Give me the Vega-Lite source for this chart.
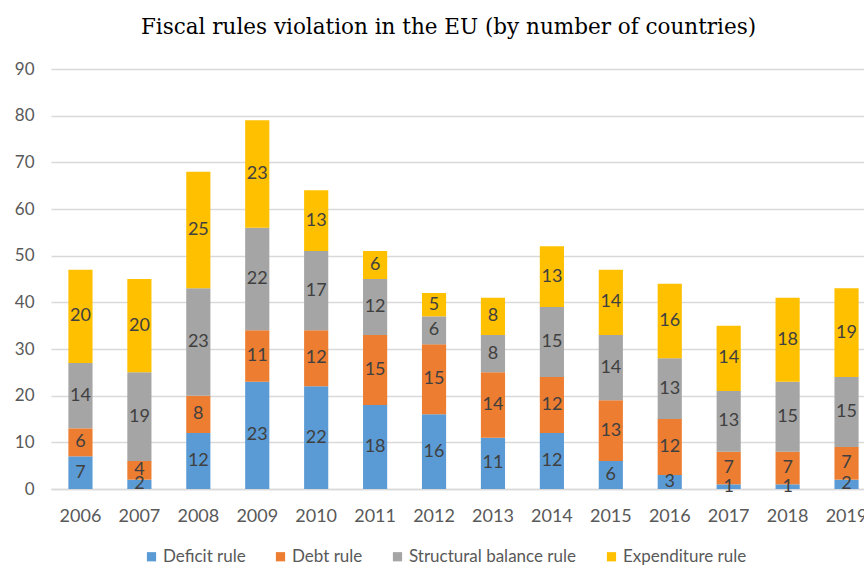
{
  "$schema": "https://vega.github.io/schema/vega-lite/v6.json",
  "width": 813,
  "height": 420,
  "autosize": "none",
  "padding": {"left": 51, "top": 69, "right": 0, "bottom": 79},
  "background": "white",
  "title": {
    "text": "Fiscal rules violation  in the EU (by number  of countries)",
    "font": "DejaVu Serif",
    "fontSize": 21.5,
    "fontWeight": "normal",
    "color": "#000000",
    "anchor": "middle",
    "offset": 22,
    "dx": -9
  },
  "config": {"view": {"stroke": null}},
  "data": {
    "values": [
      {"year": "2006", "rule": "Deficit rule", "count": 7},
      {"year": "2006", "rule": "Debt rule", "count": 6},
      {"year": "2006", "rule": "Structural balance rule", "count": 14},
      {"year": "2006", "rule": "Expenditure rule", "count": 20},
      {"year": "2007", "rule": "Deficit rule", "count": 2},
      {"year": "2007", "rule": "Debt rule", "count": 4},
      {"year": "2007", "rule": "Structural balance rule", "count": 19},
      {"year": "2007", "rule": "Expenditure rule", "count": 20},
      {"year": "2008", "rule": "Deficit rule", "count": 12},
      {"year": "2008", "rule": "Debt rule", "count": 8},
      {"year": "2008", "rule": "Structural balance rule", "count": 23},
      {"year": "2008", "rule": "Expenditure rule", "count": 25},
      {"year": "2009", "rule": "Deficit rule", "count": 23},
      {"year": "2009", "rule": "Debt rule", "count": 11},
      {"year": "2009", "rule": "Structural balance rule", "count": 22},
      {"year": "2009", "rule": "Expenditure rule", "count": 23},
      {"year": "2010", "rule": "Deficit rule", "count": 22},
      {"year": "2010", "rule": "Debt rule", "count": 12},
      {"year": "2010", "rule": "Structural balance rule", "count": 17},
      {"year": "2010", "rule": "Expenditure rule", "count": 13},
      {"year": "2011", "rule": "Deficit rule", "count": 18},
      {"year": "2011", "rule": "Debt rule", "count": 15},
      {"year": "2011", "rule": "Structural balance rule", "count": 12},
      {"year": "2011", "rule": "Expenditure rule", "count": 6},
      {"year": "2012", "rule": "Deficit rule", "count": 16},
      {"year": "2012", "rule": "Debt rule", "count": 15},
      {"year": "2012", "rule": "Structural balance rule", "count": 6},
      {"year": "2012", "rule": "Expenditure rule", "count": 5},
      {"year": "2013", "rule": "Deficit rule", "count": 11},
      {"year": "2013", "rule": "Debt rule", "count": 14},
      {"year": "2013", "rule": "Structural balance rule", "count": 8},
      {"year": "2013", "rule": "Expenditure rule", "count": 8},
      {"year": "2014", "rule": "Deficit rule", "count": 12},
      {"year": "2014", "rule": "Debt rule", "count": 12},
      {"year": "2014", "rule": "Structural balance rule", "count": 15},
      {"year": "2014", "rule": "Expenditure rule", "count": 13},
      {"year": "2015", "rule": "Deficit rule", "count": 6},
      {"year": "2015", "rule": "Debt rule", "count": 13},
      {"year": "2015", "rule": "Structural balance rule", "count": 14},
      {"year": "2015", "rule": "Expenditure rule", "count": 14},
      {"year": "2016", "rule": "Deficit rule", "count": 3},
      {"year": "2016", "rule": "Debt rule", "count": 12},
      {"year": "2016", "rule": "Structural balance rule", "count": 13},
      {"year": "2016", "rule": "Expenditure rule", "count": 16},
      {"year": "2017", "rule": "Deficit rule", "count": 1},
      {"year": "2017", "rule": "Debt rule", "count": 7},
      {"year": "2017", "rule": "Structural balance rule", "count": 13},
      {"year": "2017", "rule": "Expenditure rule", "count": 14},
      {"year": "2018", "rule": "Deficit rule", "count": 1},
      {"year": "2018", "rule": "Debt rule", "count": 7},
      {"year": "2018", "rule": "Structural balance rule", "count": 15},
      {"year": "2018", "rule": "Expenditure rule", "count": 18},
      {"year": "2019", "rule": "Deficit rule", "count": 2},
      {"year": "2019", "rule": "Debt rule", "count": 7},
      {"year": "2019", "rule": "Structural balance rule", "count": 15},
      {"year": "2019", "rule": "Expenditure rule", "count": 19}
    ]
  },
  "transform": [
    {"calculate": "indexof(['Deficit rule','Debt rule','Structural balance rule','Expenditure rule'], datum.rule)", "as": "k"},
    {"stack": "count", "groupby": ["year"], "sort": [{"field": "k", "order": "ascending"}], "as": ["y0", "y1"]},
    {"calculate": "(datum.y0 + datum.y1) / 2", "as": "ym"}
  ],
  "encoding": {
    "x": {
      "field": "year",
      "type": "ordinal",
      "scale": {"range": [0, 825], "paddingInner": 0.59, "paddingOuter": 0.295},
      "axis": {
        "title": null,
        "labelAngle": 0,
        "labelFont": "Lato",
        "labelFontSize": 18,
        "labelColor": "#595959",
        "labelPadding": 18,
        "ticks": false,
        "domainColor": "#D9D9D9",
        "domainWidth": 1.5,
        "grid": false
      }
    }
  },
  "layer": [
    {
      "mark": {"type": "bar"},
      "encoding": {
        "y": {
          "field": "y0",
          "type": "quantitative",
          "scale": {"domain": [0, 90]},
          "axis": {
            "title": null,
            "values": [0, 10, 20, 30, 40, 50, 60, 70, 80, 90],
            "labelFont": "Lato",
            "labelFontSize": 17,
            "labelColor": "#595959",
            "labelPadding": 17,
            "ticks": false,
            "domain": false,
            "gridColor": "#D9D9D9",
            "gridWidth": 1.5
          }
        },
        "y2": {"field": "y1"},
        "color": {
          "field": "rule",
          "type": "nominal",
          "scale": {
            "domain": ["Deficit rule", "Debt rule", "Structural balance rule", "Expenditure rule"],
            "range": ["#5B9BD5", "#ED7D31", "#A5A5A5", "#FFC000"]
          },
          "legend": {
            "orient": "none",
            "legendX": 92,
            "legendY": 479,
            "direction": "horizontal",
            "title": null,
            "symbolType": "square",
            "symbolSize": 85,
            "symbolStrokeWidth": 0,
            "labelFont": "Lato",
            "labelFontSize": 17,
            "labelColor": "#595959",
            "labelOffset": 3,
            "labelLimit": 400,
            "columnPadding": 26
          }
        }
      }
    },
    {
      "mark": {"type": "text", "font": "Lato", "fontSize": 18, "color": "#404040", "baseline": "middle"},
      "encoding": {
        "y": {"field": "ym", "type": "quantitative"},
        "text": {"field": "count", "type": "quantitative"}
      }
    }
  ]
}
